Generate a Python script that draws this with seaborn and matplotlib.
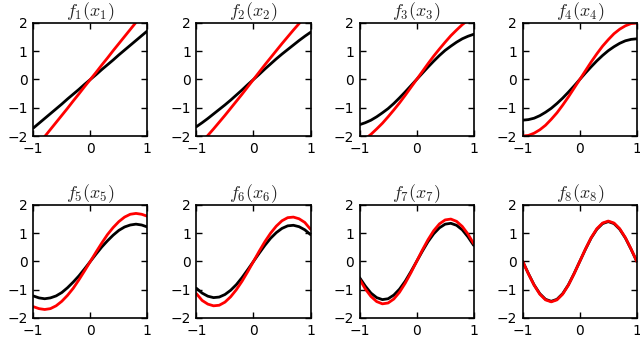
import numpy as np
import pandas as pd
import matplotlib
matplotlib.use("Agg")
import matplotlib.pyplot as plt
import seaborn as sns

# sample points along x in [-1, 1]
x = [-1.0, -0.9, -0.8, -0.7, -0.6, -0.5, -0.4, -0.3, -0.2, -0.1, 0.0,
     0.1, 0.2, 0.3, 0.4, 0.5, 0.6, 0.7, 0.8, 0.9, 1.0]

# black curves (one per panel)
black_1 = [-1.72, -1.55, -1.38, -1.21, -1.04, -0.87, -0.69, -0.52, -0.35, -0.17, 0.0,
           0.17, 0.35, 0.52, 0.69, 0.87, 1.04, 1.21, 1.38, 1.55, 1.72]
black_2 = [-1.67, -1.53, -1.38, -1.22, -1.06, -0.90, -0.73, -0.55, -0.37, -0.18, 0.0,
           0.18, 0.37, 0.55, 0.73, 0.90, 1.06, 1.22, 1.38, 1.53, 1.67]
black_3 = [-1.60, -1.53, -1.44, -1.32, -1.18, -1.03, -0.85, -0.65, -0.44, -0.22, 0.0,
           0.22, 0.44, 0.65, 0.85, 1.03, 1.18, 1.32, 1.44, 1.53, 1.60]
black_4 = [-1.44, -1.42, -1.37, -1.28, -1.16, -1.02, -0.85, -0.66, -0.45, -0.23, 0.0,
           0.23, 0.45, 0.66, 0.85, 1.02, 1.16, 1.28, 1.37, 1.42, 1.44]
black_5 = [-1.22, -1.29, -1.32, -1.29, -1.22, -1.10, -0.93, -0.73, -0.51, -0.26, 0.0,
           0.26, 0.51, 0.73, 0.93, 1.10, 1.22, 1.29, 1.32, 1.29, 1.22]
black_6 = [-0.95, -1.12, -1.23, -1.28, -1.26, -1.17, -1.02, -0.82, -0.57, -0.29, 0.0,
           0.29, 0.57, 0.82, 1.02, 1.17, 1.26, 1.28, 1.23, 1.12, 0.95]
black_7 = [-0.57, -0.87, -1.12, -1.28, -1.35, -1.32, -1.19, -0.98, -0.70, -0.36, 0.0,
           0.36, 0.70, 0.98, 1.19, 1.32, 1.35, 1.28, 1.12, 0.87, 0.57]
black_8 = [0.0, -0.43, -0.83, -1.14, -1.34, -1.41, -1.34, -1.14, -0.83, -0.43, 0.0,
           0.43, 0.83, 1.14, 1.34, 1.41, 1.34, 1.14, 0.83, 0.43, 0.0]

# red curves
red_1 = [-2.52, -2.27, -2.02, -1.77, -1.52, -1.27, -1.02, -0.76, -0.51, -0.25, 0.0,
         0.25, 0.51, 0.76, 1.02, 1.27, 1.52, 1.77, 2.02, 2.27, 2.52]
red_2 = [-2.42, -2.20, -1.98, -1.75, -1.51, -1.27, -1.02, -0.77, -0.52, -0.26, 0.0,
         0.26, 0.52, 0.77, 1.02, 1.27, 1.51, 1.75, 1.98, 2.20, 2.42]
red_3 = [-2.25, -2.10, -1.94, -1.75, -1.55, -1.32, -1.08, -0.83, -0.56, -0.28, 0.0,
         0.28, 0.56, 0.83, 1.08, 1.32, 1.55, 1.75, 1.94, 2.10, 2.25]
red_4 = [-2.0, -1.98, -1.90, -1.78, -1.62, -1.41, -1.18, -0.91, -0.62, -0.31, 0.0,
         0.31, 0.62, 0.91, 1.18, 1.41, 1.62, 1.78, 1.90, 1.98, 2.0]
red_5 = [-1.60, -1.67, -1.70, -1.67, -1.57, -1.41, -1.20, -0.95, -0.65, -0.33, 0.0,
         0.33, 0.65, 0.95, 1.20, 1.41, 1.57, 1.67, 1.70, 1.67, 1.60]
red_6 = [-1.14, -1.38, -1.51, -1.57, -1.55, -1.44, -1.25, -1.00, -0.70, -0.36, 0.0,
         0.36, 0.70, 1.00, 1.25, 1.44, 1.55, 1.57, 1.51, 1.38, 1.14]
red_7 = [-0.63, -0.97, -1.24, -1.42, -1.50, -1.47, -1.33, -1.09, -0.77, -0.40, 0.0,
         0.40, 0.77, 1.09, 1.33, 1.47, 1.50, 1.42, 1.24, 0.97, 0.63]
red_8 = [0.0, -0.44, -0.84, -1.16, -1.36, -1.43, -1.36, -1.16, -0.84, -0.44, 0.0,
         0.44, 0.84, 1.16, 1.36, 1.43, 1.36, 1.16, 0.84, 0.44, 0.0]

blacks = [black_1, black_2, black_3, black_4, black_5, black_6, black_7, black_8]
reds = [red_1, red_2, red_3, red_4, red_5, red_6, red_7, red_8]
titles = [r"$f_{%d}(x_{%d})$" % (i, i) for i in range(1, 9)]

sns.set_style("ticks")
plt.rcParams["font.family"] = ["DejaVu Sans"]
plt.rcParams["mathtext.fontset"] = "cm"
plt.rcParams["xtick.direction"] = "in"
plt.rcParams["ytick.direction"] = "in"

fig, axes = plt.subplots(2, 4, figsize=(6.4, 3.43), dpi=100)
fig.subplots_adjust(left=0.052, right=0.995, bottom=0.073, top=0.933,
                    wspace=0.43, hspace=0.61)

for i, ax in enumerate(axes.flat):
    df = pd.DataFrame({"x": x, "black": blacks[i], "red": reds[i]})
    sns.lineplot(data=df, x="x", y="black", color="black", lw=2, ax=ax)
    sns.lineplot(data=df, x="x", y="red", color="#ff0000", lw=2, ax=ax)
    ax.set_xlim(-1, 1)
    ax.set_ylim(-2, 2)
    ax.set_xticks([-1, 0, 1])
    ax.set_yticks([-2, -1, 0, 1, 2])
    ax.set_xlabel("")
    ax.set_ylabel("")
    ax.tick_params(top=True, right=True, length=4, width=1, labelsize=10,
                   colors="black", pad=4)
    for s in ax.spines.values():
        s.set_linewidth(1.2)
        s.set_color("black")
    ax.set_title(titles[i], fontsize=13, pad=5)

fig.savefig("out.png", dpi=100)
